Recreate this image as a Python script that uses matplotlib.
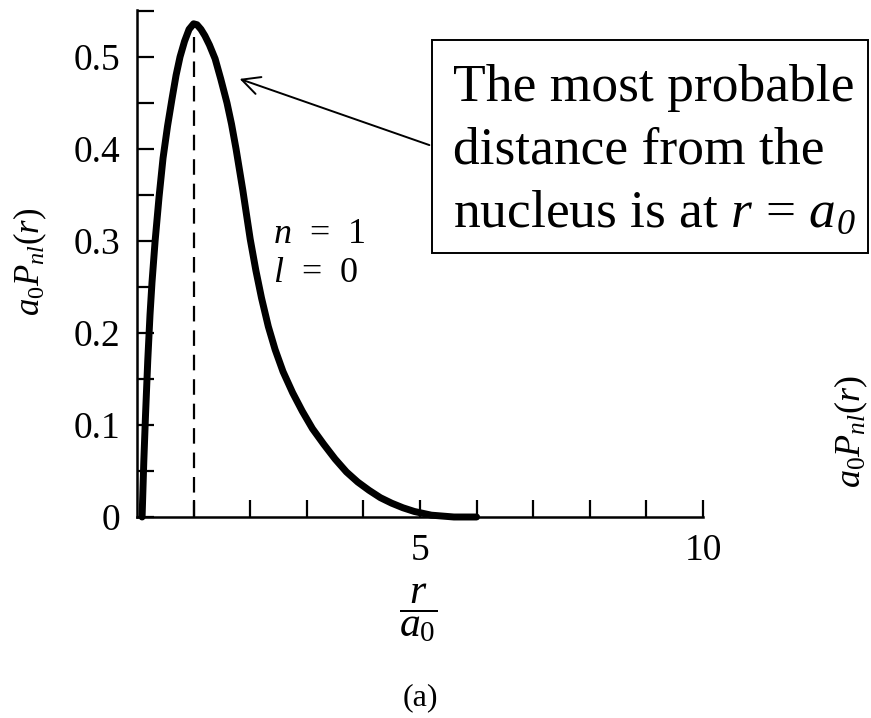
"""Radial probability density for the hydrogen ground state"""
import matplotlib
matplotlib.use("Agg")
import matplotlib.pyplot as plt

plt.rcParams['font.family'] = ['Liberation Serif', 'DejaVu Serif']
plt.rcParams['mathtext.fontset'] = 'custom'
plt.rcParams['mathtext.rm'] = 'Liberation Serif'
plt.rcParams['mathtext.it'] = 'Liberation Serif:italic'
plt.rcParams['mathtext.bf'] = 'Liberation Serif:bold'

# r / a0 and a0 * P10(r)
r_over_a0 = [0.09, 0.12, 0.15, 0.19, 0.23, 0.265, 0.32, 0.39, 0.46, 0.54,
             0.62, 0.69, 0.76, 0.84, 0.92, 1.00, 1.06, 1.13, 1.20, 1.28,
             1.38, 1.48, 1.59, 1.67, 1.75, 1.87, 2.00, 2.10, 2.20, 2.32,
             2.44, 2.58, 2.75, 2.92, 3.10, 3.30, 3.50, 3.70, 3.90, 4.10,
             4.30, 4.50, 4.70, 4.90, 5.20, 5.60, 6.00]
a0_P = [0.000, 0.060, 0.110, 0.170, 0.220, 0.255, 0.300, 0.348, 0.390, 0.425,
        0.455, 0.480, 0.500, 0.517, 0.530, 0.536, 0.535, 0.530, 0.523, 0.513,
        0.498, 0.476, 0.450, 0.427, 0.400, 0.355, 0.302, 0.268, 0.238, 0.207,
        0.182, 0.158, 0.135, 0.115, 0.096, 0.079, 0.063, 0.049, 0.038, 0.029,
        0.021, 0.015, 0.010, 0.006, 0.002, 0.000, 0.000]
r_peak = 1.0
p_peak = 0.536

y_ticks = [0, 0.05, 0.1, 0.15, 0.2, 0.25, 0.3, 0.35, 0.4, 0.45, 0.5, 0.55]
y_labels = ['0', '', '0.1', '', '0.2', '', '0.3', '', '0.4', '', '0.5', '']
x_ticks = [1, 2, 3, 4, 5, 6, 7, 8, 9, 10]
x_labels = ['', '', '', '', '5', '', '', '', '', '10']

W, H = 871, 718
fig = plt.figure(figsize=(W / 100, H / 100), dpi=100)
fig.patch.set_facecolor('white')
ax = fig.add_axes([137 / W, 201 / H, 566 / W, 507 / H])
ax.set_xlim(0, 10)
ax.set_ylim(0, 0.551)

ax.plot(r_over_a0, a0_P, color='black', lw=5, solid_capstyle='round',
        solid_joinstyle='round', clip_on=False, zorder=3)
ax.plot([r_peak, r_peak], [0, p_peak - 0.01], color='black', lw=1.6,
        dashes=(7, 4), zorder=2)

for side in ('top', 'right'):
    ax.spines[side].set_visible(False)
for side in ('left', 'bottom'):
    ax.spines[side].set_linewidth(1.8)

ax.set_yticks(y_ticks)
ax.set_yticklabels(y_labels)
ax.set_xticks(x_ticks)
ax.set_xticklabels(x_labels)
ax.tick_params(axis='both', direction='in', length=12, width=1.6,
               labelsize=27, pad=12)

fig.text(30 / W, 1 - 262 / H, r'$a_0P_{nl}(r)$', rotation=90, fontsize=25,
         ha='center', va='center')
fig.text(418 / W, 1 - 613 / H, r'$\dfrac{r}{a_0}$', fontsize=30,
         ha='center', va='center')
fig.text(420 / W, 1 - 698 / H, '(a)', fontsize=23, ha='center', va='center')

ax.text(2.4, 0.307, r'$n$  =  1', fontsize=26, ha='left', va='center')
ax.text(2.4, 0.265, r'$l$  =  0', fontsize=26, ha='left', va='center')

# callout box with arrow pointing at the peak
box = plt.Rectangle((432 / W, 1 - 253 / H), (868 - 432) / W, (253 - 40) / H,
                    transform=fig.transFigure, fill=False, lw=1.4,
                    edgecolor='black')
fig.add_artist(box)
callout = ['The most probable', 'distance from the',
           r'nucleus is at $r$ = $a$']
lines = []
for i, line in enumerate(callout):
    lines.append(fig.text(453 / W, 1 - (88 + 63 * i) / H, line,
                          fontsize=38.5, ha='left', va='center'))
# italic subscript zero after the last "a"
fig.text(0, 0, '0', fontsize=26, style='italic', ha='left', va='bottom',
         transform=lines[-1].get_transform() +
         matplotlib.transforms.ScaledTranslation(0, 0, fig.dpi_scale_trans))
ax.annotate('', xy=(237 / W, 1 - 78 / H), xycoords='figure fraction',
            xytext=(432 / W, 1 - 146 / H), textcoords='figure fraction',
            arrowprops=dict(arrowstyle='->', lw=1.4, color='black',
                            mutation_scale=32))

# edge of the neighbouring panel's axis label
fig.text(851 / W, 1 - 432 / H, r'$a_0P_{nl}(r)$', rotation=90, fontsize=26,
         ha='center', va='center')

fig.canvas.draw()
bb = lines[-1].get_window_extent()
sub = fig.texts[-2]
sub.set_transform(matplotlib.transforms.IdentityTransform())
sub.set_position((bb.x1 + 1, bb.y0 - 4))

fig.savefig('out.png', dpi=100, facecolor='white')
